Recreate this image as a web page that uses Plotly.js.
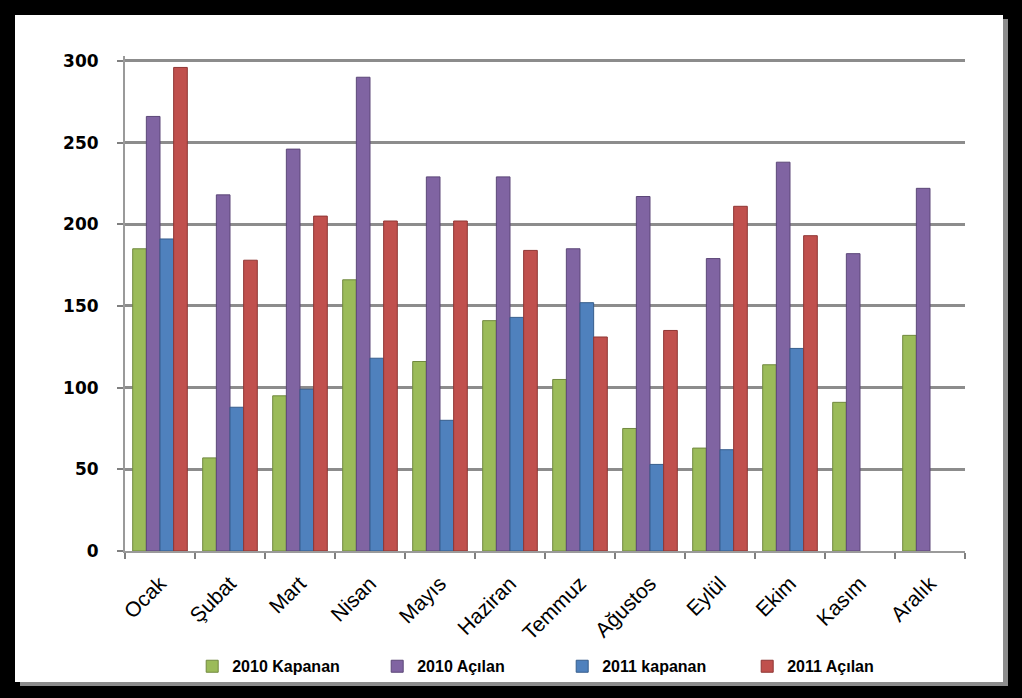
<!DOCTYPE html>
<html>
<head>
<meta charset="utf-8">
<script src="https://cdn.plot.ly/plotly-3.0.1.min.js"></script>
<style>
  html, body { margin: 0; padding: 0; background: #000; }
  #frame { position: absolute; left: 15px; top: 15px; width: 988px; height: 667px; background: #fff; box-shadow: 5px 4px 0 #8c8c8c; }
  #chart { position: absolute; left: 0; top: 0; width: 1022px; height: 698px; }
</style>
</head>
<body>
<div id="frame"></div>
<div id="chart"></div>
<script>
const months = ["Ocak", "Şubat", "Mart", "Nisan", "Mayıs", "Haziran", "Temmuz", "Ağustos", "Eylül", "Ekim", "Kasım", "Aralık"];
const kapanan2010 = [185, 57, 95, 166, 116, 141, 105, 75, 63, 114, 91, 132];
const acilan2010  = [266, 218, 246, 290, 229, 229, 185, 217, 179, 238, 182, 222];
const kapanan2011 = [191, 88, 99, 118, 80, 143, 152, 53, 62, 124, null, null];
const acilan2011  = [296, 178, 205, 202, 202, 184, 131, 135, 211, 193, null, null];
const seriesNames = ["2010 Kapanan", "2010 Açılan", "2011 kapanan", "2011 Açılan"];
const yTicks = [0, 50, 100, 150, 200, 250, 300];

const colors = ["#9BBB59", "#8064A2", "#4F81BD", "#C0504D"];
const edges  = ["#71893f", "#5c4778", "#365d8c", "#8f3634"];
const data = [kapanan2010, acilan2010, kapanan2011, acilan2011].map((vals, i) => ({
  type: "bar",
  name: seriesNames[i],
  x: months,
  y: vals,
  marker: { color: colors[i], line: { color: edges[i], width: 1 } }
}));

const layout = {
  width: 1022,
  height: 698,
  paper_bgcolor: "rgba(0,0,0,0)",
  plot_bgcolor: "rgba(0,0,0,0)",
  margin: { l: 125, r: 57, t: 56, b: 147 },
  barmode: "group",
  bargap: 0.22,
  bargroupgap: 0,
  showlegend: true,
  legend: {
    orientation: "h",
    x: 0.08, xanchor: "left",
    y: -0.233, yanchor: "middle",
    entrywidth: 140, entrywidthmode: "pixels",
    font: { family: "Liberation Sans, Arial, sans-serif", size: 16, color: "#000", weight: "bold" },
    bgcolor: "rgba(0,0,0,0)"
  },
  xaxis: {
    type: "category",
    tickangle: -45,
    tickson: "boundaries",
    ticks: "outside",
    ticklen: 6,
    tickcolor: "#808080",
    tickwidth: 2,
    showline: true,
    linecolor: "#9a9a9a",
    linewidth: 2,
    showgrid: false,
    ticklabelstandoff: 10,
    tickfont: { family: "Liberation Sans, Arial, sans-serif", size: 21, color: "#000" }
  },
  yaxis: {
    range: [0, 303],
    tickvals: yTicks,
    ticktext: yTicks.map(String),
    ticks: "outside",
    ticklen: 6,
    tickcolor: "#808080",
    tickwidth: 2,
    showline: true,
    linecolor: "#9a9a9a",
    linewidth: 2,
    showgrid: true,
    gridcolor: "#8c8c8c",
    gridwidth: 3,
    zeroline: false,
    ticklabelstandoff: 15,
    tickfont: { family: "DejaVu Sans, sans-serif", size: 17, color: "#000", weight: "bold" }
  }
};

Plotly.newPlot("chart", data, layout, { displayModeBar: false, staticPlot: true });
</script>
</body>
</html>
